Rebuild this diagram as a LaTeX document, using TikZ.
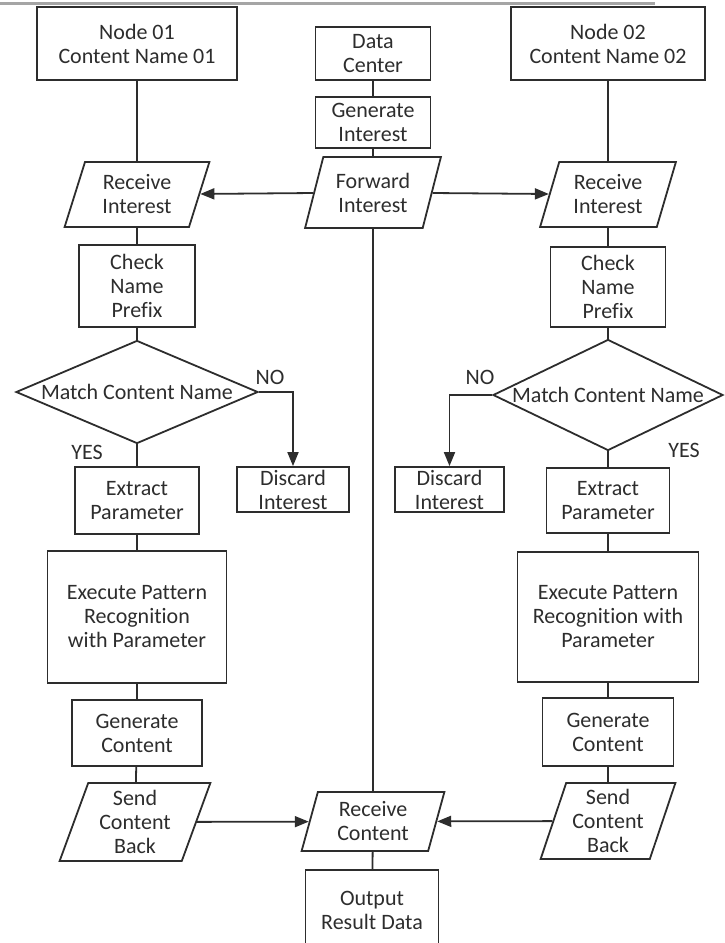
\documentclass[tikz,border=0pt]{standalone}
\usepackage{fontspec}
\setmainfont{Carlito}[Ligatures=NoCommon]
\usetikzlibrary{arrows.meta,shapes.geometric}
\definecolor{flowInk}{RGB}{45,45,45}
\definecolor{flowRule}{RGB}{165,165,165}

\begin{document}
\begin{tikzpicture}[
  x=1pt, y=-1pt,
  every node/.style={font=\fontsize{22}{24}\selectfont, text=flowInk},
  proc/.style={
    draw=flowInk,
    line width=1.8pt,
    align=center,
    inner sep=0pt
  },
  io/.style={
    proc,
    trapezium,
    trapezium left angle=71,
    trapezium right angle=109,
    trapezium stretches=true
  },
  decide/.style={proc, diamond},
  link/.style={draw=flowInk, line width=1.8pt},
  arrow/.style={link, -{Triangle[length=14pt,width=11pt]}}
]
  \useasboundingbox (0,0) rectangle (725,943);
  \draw[flowRule, line width=3pt] (0,3) -- (655,3);

  % centre column
  \node[proc, minimum width=115, minimum height=53] (datacenter) at (373,53.5)
    {Data\\Center};
  \node[proc, minimum width=115, minimum height=51] (geninterest) at (373,122.5)
    {Generate\\Interest};
  \node[io, minimum width=136, minimum height=71] (fwd) at (373,192.5)
    {Forward\\Interest};
  \node[io, trapezium left angle=75, trapezium right angle=105,
    minimum width=143, minimum height=59] (recvC) at (373,821.5)
    {Receive\\Content};
  \node[proc, minimum width=133, minimum height=80] (output) at (372,910)
    {Output\\Result Data};

  % left column
  \node[proc, minimum width=200, minimum height=73] (node1) at (137,43.5)
    {Node 01\\Content Name 01};
  \node[io, minimum width=145, minimum height=65] (recvL) at (137,194.5)
    {Receive\\Interest};
  \node[proc, minimum width=116, minimum height=82] (checkL) at (137,286)
    {Check\\Name\\Prefix};
  \node[decide, aspect=2.35, minimum width=242, minimum height=103] (matchL) at (137,392)
    {Match Content Name};
  \node[proc, minimum width=112, minimum height=45] (discardL) at (293,489.5)
    {Discard\\Interest};
  \node[proc, minimum width=124, minimum height=67] (extractL) at (137,500.5)
    {Extract\\Parameter};
  \node[proc, minimum width=179, minimum height=132] (execL) at (137,617)
    {Execute Pattern\\Recognition\\with Parameter};
  \node[proc, minimum width=130, minimum height=66] (genL) at (137,733)
    {Generate\\Content};
  \node[io, minimum width=151, minimum height=78] (sendL) at (135,822)
    {Send\\Content\\Back};

  % right column
  \node[proc, minimum width=194, minimum height=73] (node2) at (608,43.5)
    {Node 02\\Content Name 02};
  \node[io, minimum width=136, minimum height=65] (recvR) at (608,194.5)
    {Receive\\Interest};
  \node[proc, minimum width=115, minimum height=80] (checkR) at (608,287)
    {Check\\Name\\Prefix};
  \node[decide, aspect=2.1, minimum width=230, minimum height=111] (matchR) at (608,395)
    {Match Content Name};
  \node[proc, minimum width=109, minimum height=45] (discardR) at (449.5,489.5)
    {Discard\\Interest};
  \node[proc, minimum width=123, minimum height=65] (extractR) at (608,500.5)
    {Extract\\Parameter};
  \node[proc, minimum width=181, minimum height=130] (execR) at (608,617)
    {Execute Pattern\\Recognition with\\Parameter};
  \node[proc, minimum width=131, minimum height=68] (genR) at (608,732)
    {Generate\\Content};
  \node[io, minimum width=135, minimum height=76] (sendR) at (608,821)
    {Send\\Content\\Back};

  % decision labels
  \node (noL) at (270,377) {NO};
  \node (yesL) at (87,452) {YES};
  \node (noR) at (480,377) {NO};
  \node (yesR) at (684,450) {YES};

  % plain links
  \draw[link] (datacenter) -- (geninterest);
  \draw[link] (geninterest) -- (fwd);
  \draw[link] (fwd) -- (recvC);
  \draw[link] (recvC) -- (output);
  \draw[link] (node1) -- (recvL);
  \draw[link] (recvL) -- (checkL);
  \draw[link] (checkL) -- (matchL);
  \draw[link] (matchL) -- (extractL);
  \draw[link] (extractL) -- (execL);
  \draw[link] (execL) -- (genL);
  \draw[link] (genL) -- (sendL);
  \draw[link] (node2) -- (recvR);
  \draw[link] (recvR) -- (checkR);
  \draw[link] (checkR) -- (matchR);
  \draw[link] (matchR) -- (extractR);
  \draw[link] (extractR) -- (execR);
  \draw[link] (execR) -- (genR);
  \draw[link] (genR) -- (sendR);

  % arrows
  \draw[arrow] (fwd) -- (recvL);
  \draw[arrow] (fwd) -- (recvR);
  \draw[arrow] (matchL.east) -| (discardL.north);
  \draw[arrow] (matchR.west) -| (discardR.north);
  \draw[arrow] (sendL) -- (recvC);
  \draw[arrow] (sendR) -- (recvC);
\end{tikzpicture}
\end{document}
